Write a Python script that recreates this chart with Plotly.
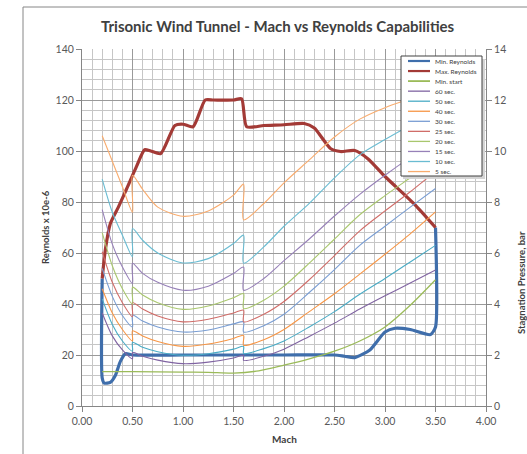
import plotly.graph_objects as go

# ---------------- data ----------------
M_CURVE = [0.2, 0.3, 0.4, 0.5, 0.5, 0.6, 0.75, 1.0, 1.25, 1.5, 1.6, 1.6,
           1.8, 2.0, 2.25, 2.5, 2.75, 3.0, 3.25, 3.5]
sec5 = [106, 96, 86, 76, 90.5, 85, 78, 74.4, 76.5, 82.7, 87, 73,
        79.4, 87.5, 96.5, 105.5, 112.5, 117, 120.5, 124]
sec10 = [89, 76, 67, 58.5, 69.6, 65, 60, 56.1, 57.8, 63.7, 67, 56,
         62.4, 70.5, 79.5, 89.5, 98.5, 104.5, 110, 115]
sec15 = [77, 63.5, 54.5, 48, 56, 52, 48.5, 45.4, 47, 52, 54.5, 45.4,
         50, 57, 65.5, 74.5, 83, 90.5, 97.5, 104]
sec20 = [68, 55, 46, 40, 46.6, 43.5, 40.5, 37.9, 39.2, 42.5, 44.1, 38.2,
         41.5, 47, 56, 65.5, 75, 82.5, 89.5, 96.5]
sec25 = [60.5, 48.5, 40.5, 35, 40.6, 38, 35.3, 33, 34, 36.5, 37.6, 33,
         36, 41, 49.5, 59, 68.7, 76.5, 84, 92]
sec30 = [54, 43, 35.5, 31, 35.7, 33.3, 31, 29, 29.8, 32.2, 33, 29,
         31.5, 36, 44.5, 53.5, 63, 70.5, 78, 85.3]
sec40 = [46, 36.5, 30, 25.5, 29.5, 27.5, 25.3, 23.4, 24.3, 26.5, 27.7, 23.8,
         26, 30, 37, 44, 51.7, 59.5, 67.5, 76.1]
sec50 = [42, 32, 25.5, 21.5, 25, 23, 21.3, 19.9, 20.5, 22.3, 23.4, 20.6,
         22.5, 25.5, 31, 37, 43.8, 50, 56.5, 63]
sec60 = [36.5, 27.5, 22, 18.5, 21, 19.5, 18, 16.6, 17.2, 18.8, 19.9, 17.9,
         19.5, 22.3, 27.3, 32.5, 38, 43.2, 48.2, 53.3]

M_START = [0.2, 0.5, 1.0, 1.25, 1.5, 1.75, 2.0, 2.25, 2.5, 2.75, 3.0, 3.25, 3.5]
min_start = [13.5, 13.5, 13.3, 13.2, 12.9, 13.8, 16, 18.5, 21.5, 25.5, 31, 39.5, 49.5]

M_MINRE = [0.2, 0.2, 0.22, 0.28, 0.33, 0.38, 0.43, 0.5, 1.0, 1.5, 2.0, 2.5, 2.6, 2.7,
           2.85, 3.0, 3.1, 3.25, 3.45, 3.5, 3.5]
min_re = [50, 11, 9, 9.3, 12, 17.5, 20.5, 20, 20, 20, 20, 20, 19.5, 19,
          22, 29, 30.5, 30, 28, 31, 70]

M_MAXRE = [0.2, 0.23, 0.28, 0.36, 0.44, 0.54, 0.62, 0.68, 0.78, 0.92, 1.0, 1.1,
           1.22, 1.3, 1.5, 1.58, 1.63, 1.8, 2.0, 2.2, 2.3, 2.46, 2.56, 2.7,
           2.83, 3.0, 3.3, 3.5]
max_re = [50, 61, 71.5, 78, 85, 94, 100.5, 100, 99, 110, 110.5, 109.5,
          120, 120, 120, 120.5, 109.5, 110, 110.3, 110.8, 109, 101, 99.8, 100.2,
          97, 90, 78.8, 70]

X_TICKS = [0, 0.5, 1.0, 1.5, 2.0, 2.5, 3.0, 3.5, 4.0]
X_TICK_TEXT = ["0.00", "0.50", "1.00", "1.50", "2.00", "2.50", "3.00", "3.50", "4.00"]

SERIES = [
    ("Min. Reynolds", M_MINRE, min_re, "#3F6EAB", 3.2),
    ("Max. Reynolds", M_MAXRE, max_re, "#A33A36", 3.2),
    ("Min. start", M_START, min_start, "#9BBB59", 1.3),
    ("60 sec.", M_CURVE, sec60, "#8064A2", 1.1),
    ("50 sec.", M_CURVE, sec50, "#4BACC6", 1.1),
    ("40 sec.", M_CURVE, sec40, "#F79646", 1.1),
    ("30 sec.", M_CURVE, sec30, "#7A9ED3", 1.1),
    ("25 sec.", M_CURVE, sec25, "#D06D69", 1.1),
    ("20 sec.", M_CURVE, sec20, "#A9C76E", 1.1),
    ("15 sec.", M_CURVE, sec15, "#9781B8", 1.1),
    ("10 sec.", M_CURVE, sec10, "#6ABCD2", 1.1),
    ("5 sec.", M_CURVE, sec5, "#F9AC6E", 1.1),
]

W, H = 527, 454
L, R, T, B = 82, 41, 49, 48
PW, PH = W - L - R, H - T - B


def px(x):
    return (x - L) / PW


def py(y):
    return (H - B - y) / PH


FONT = "Lato, 'Open Sans', 'Liberation Sans', sans-serif"
fig = go.Figure()
for name, xs, ys, col, wd in SERIES:
    fig.add_trace(go.Scatter(x=xs, y=ys, mode="lines", name=name,
                             line=dict(color=col, width=wd, shape="spline",
                                       smoothing=0.6 if wd > 2 else 0.8),
                             showlegend=False, hoverinfo="skip"))
# invisible trace for the secondary (pressure) axis
fig.add_trace(go.Scatter(x=[None], y=[None], yaxis="y2", showlegend=False))

GRID_MAJ = "#9A9A9A"
GRID_MIN = "#C6C6C6"
fig.update_layout(
    width=W, height=H, margin=dict(l=L, r=R, t=T, b=B),
    paper_bgcolor="white", plot_bgcolor="white",
    font=dict(family=FONT, size=10, color="#595959"),
    showlegend=False,
    xaxis=dict(range=[0, 4], tickvals=X_TICKS, ticktext=X_TICK_TEXT,
               showgrid=True, gridcolor=GRID_MAJ, gridwidth=1,
               minor=dict(dtick=0.1, showgrid=True, gridcolor=GRID_MIN, gridwidth=1),
               showline=True, linecolor="#868686", linewidth=1,
               ticks="outside", ticklen=5, tickcolor="#868686",
               zeroline=False, tickfont=dict(size=10.5, color="#595959")),
    yaxis=dict(range=[0, 140], dtick=20, showgrid=True, gridcolor=GRID_MAJ,
               minor=dict(dtick=4, showgrid=True, gridcolor=GRID_MIN),
               showline=True, linecolor="#868686", linewidth=1,
               ticks="outside", ticklen=5, tickcolor="#868686",
               zeroline=False, tickfont=dict(size=10.5, color="#595959")),
    yaxis2=dict(range=[0, 14], dtick=2, overlaying="y", side="right",
                showgrid=False, showline=True, linecolor="#868686", linewidth=1,
                ticks="outside", ticklen=5, tickcolor="#868686", zeroline=False,
                tickfont=dict(size=10.5, color="#595959")),
)

ann = [
    dict(text="<b>Trisonic Wind Tunnel - Mach vs Reynolds Capabilities</b>",
         x=px(278), y=py(26), font=dict(size=15, color="#404040", family=FONT)),
    dict(text="<b>Mach</b>", x=px(284), y=py(439), font=dict(size=10, color="#404040", family=FONT)),
    dict(text="<b>Reynolds x 10e-6</b>", x=px(45), y=py(227), textangle=-90,
         font=dict(size=9.5, color="#404040", family=FONT)),
    dict(text="<b>Stagnation Pressure, bar</b>", x=px(521), y=py(283), textangle=-90,
         font=dict(size=9.5, color="#404040", family=FONT)),
]
for a in ann:
    a.update(xref="paper", yref="paper", showarrow=False, xanchor="center", yanchor="middle")

shapes = [
    dict(type="rect", xref="paper", yref="paper", x0=px(23), x1=px(560), y0=py(7), y1=py(470),
         line=dict(color="#868686", width=1), fillcolor="rgba(0,0,0,0)", layer="below"),
    # legend shadow + box
    dict(type="rect", xref="paper", yref="paper", x0=px(403), x1=px(485), y0=py(59), y1=py(179),
         line=dict(width=0), fillcolor="#D4D4D4", layer="above"),
    dict(type="rect", xref="paper", yref="paper", x0=px(401), x1=px(482), y0=py(56), y1=py(176),
         line=dict(color="#404040", width=1), fillcolor="white", layer="above"),
]
for i, (name, xs, ys, col, wd) in enumerate(SERIES):
    yy = 61 + 10.05 * i
    shapes.append(dict(type="line", xref="paper", yref="paper", x0=px(408), x1=px(430),
                       y0=py(yy), y1=py(yy), layer="above",
                       line=dict(color=col, width=2.2 if wd > 2 else (1.8 if i == 2 else 1.3))))
    ann.append(dict(text=name, x=px(433), y=py(yy), xref="paper", yref="paper",
                    showarrow=False, xanchor="left", yanchor="middle",
                    font=dict(size=6.5, color="#404040", family=FONT)))

fig.update_layout(annotations=ann, shapes=shapes)
fig.write_html("out.html")
